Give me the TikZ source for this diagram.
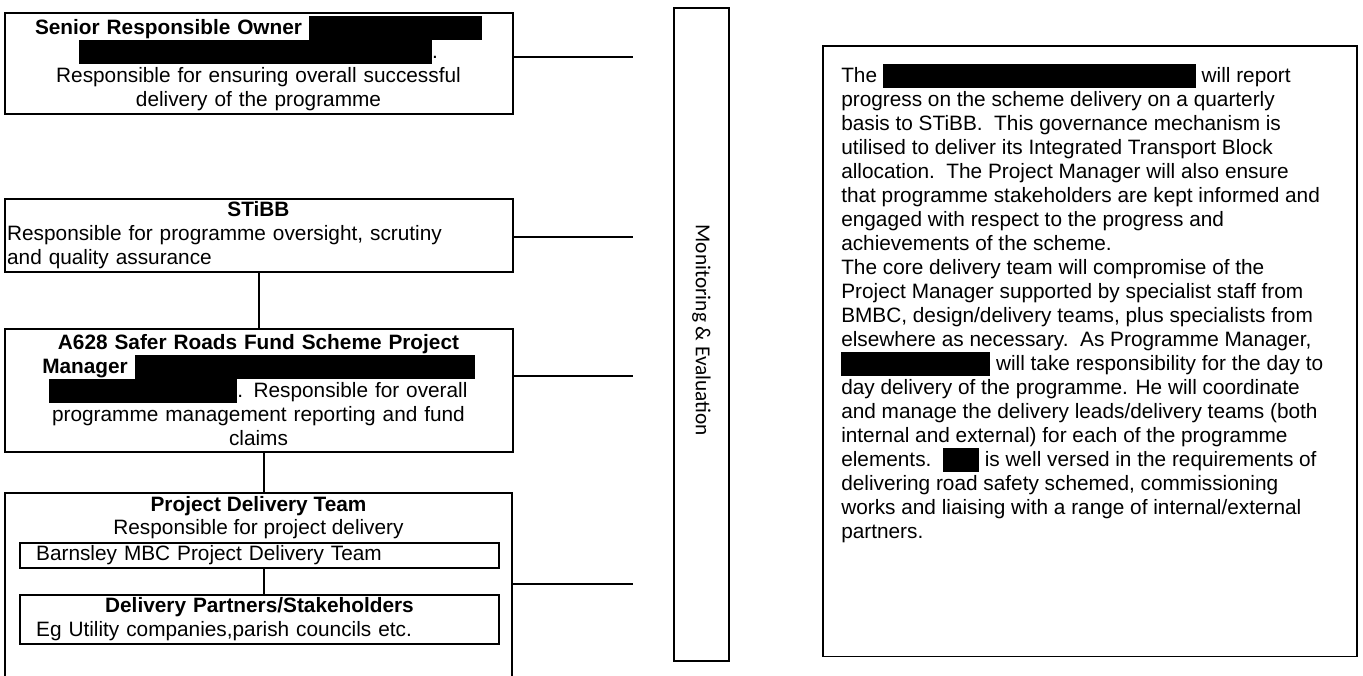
\documentclass[tikz,border=0pt]{standalone}
\usepackage{fontspec}
\setmainfont{Liberation Sans}
\newfontfamily\calibrifont{Carlito}
\usetikzlibrary{positioning,fit}
\newcommand{\blackout}[1]{\rule[-4pt]{#1}{18pt}}

\begin{document}
\begin{tikzpicture}[x=0.75pt,y=-0.75pt,
    box/.style={draw, line width=1.5pt, text width=377pt, inner xsep=2pt,
        inner ysep=0pt, align=center, font=\fontsize{15.6}{18}\selectfont},
    subbox/.style={draw, line width=1.5pt, text width=335pt, inner xsep=12pt,
        inner ysep=0pt, minimum height=18.75pt, align=left,
        font=\fontsize{15.6}{18}\selectfont},
    link/.style={line width=1.5pt}]
\clip (0,0) rectangle (1363,675);
\node [box, minimum height=75.75pt] (sro) at (258.5,63.5)
    {\textbf{Senior Responsible Owner} \blackout{129.75pt}\\
     \blackout{264.75pt}.\\
     Responsible for ensuring overall successful\\
     delivery of the programme};
\node [box, minimum height=54.75pt, align=left, below=62.25pt of sro] (stibb)
    {{\centering\textbf{STiBB}\par}
     Responsible for programme oversight, scrutiny\\
     and quality assurance};
\node [box, minimum height=92.25pt, below=41.25pt of stibb] (pm)
    {\textbf{A628 Safer Roads Fund Scheme Project}\\
     \textbf{Manager} \blackout{255pt}\\
     \blackout{141pt}. Responsible for overall\\
     programme management reporting and fund\\
     claims};
\coordinate (pdttl) at (5,493);
\coordinate (pdtbr) at (512,700);
\node [draw, line width=1.5pt, inner sep=0pt, fit=(pdttl)(pdtbr)] (pdt) {};
\node [below=3pt of pdt.north, align=center, inner sep=0pt,
    font=\fontsize{15.6}{17.4}\selectfont] (pdthead)
    {\textbf{Project Delivery Team}\\Responsible for project delivery};
\node [subbox] (barnsley) at (259.5,555.5) {Barnsley MBC Project Delivery Team};
\node [subbox, minimum height=36.75pt] (partners) at (259.5,619.5)
    {{\centering\textbf{Delivery Partners/Stakeholders}\par}
     Eg Utility companies,parish councils etc.};
\node [draw, line width=1.5pt, minimum width=41.25pt, minimum height=489.75pt,
    inner sep=0pt] (me) at (701.5,334.5) {};
\node [rotate=-90, font=\calibrifont\fontsize{16}{18}\selectfont] (melabel)
    at ([yshift=3pt]me.center) {Monitoring \& Evaluation};
\node [draw, line width=1.2pt, minimum width=400.5pt, minimum height=458pt,
    inner sep=0pt, anchor=north west] (report) at (822,45) {};
\node [anchor=north west, align=left, inner sep=0pt,
    font=\fontsize{15.6}{18}\selectfont] (reporttext) at (841,64)
    {The \blackout{234.75pt} will report\\
     progress on the scheme delivery on a quarterly\\
     basis to STiBB.\ \ This governance mechanism is\\
     utilised to deliver its Integrated Transport Block\\
     allocation.\ \ The Project Manager will also ensure\\
     that programme stakeholders are kept informed and\\
     engaged with respect to the progress and\\
     achievements of the scheme.\\
     The core delivery team will compromise of the\\
     Project Manager supported by specialist staff from\\
     BMBC, design/delivery teams, plus specialists from\\
     elsewhere as necessary.\ \ As Programme Manager,\\
     \blackout{111.75pt} will take responsibility for the day to\\
     day delivery of the programme. He will coordinate\\
     and manage the delivery leads/delivery teams (both\\
     internal and external) for each of the programme\\
     elements.\ \ \blackout{27pt} is well versed in the requirements of\\
     delivering road safety schemed, commissioning\\
     works and liaising with a range of internal/external\\
     partners.};
\coordinate (m1) at (633,57);
\coordinate (m2) at (633,237);
\coordinate (m3) at (633,376);
\coordinate (m4) at (633,584);
\draw [link] (sro.east |- m1) -- (m1);
\draw [link] (stibb.east |- m2) -- (m2);
\draw [link] (pm.east |- m3) -- (m3);
\draw [link] (pdt.east |- m4) -- (m4);
\draw [link] (stibb) -- (pm);
\draw [link] ([xshift=3.75pt]pm.south) -- ([xshift=3.75pt]pm.south |- pdt.north);
\draw [link] ([xshift=3pt]barnsley.south) -- ([xshift=3pt]partners.north);
\end{tikzpicture}
\end{document}
